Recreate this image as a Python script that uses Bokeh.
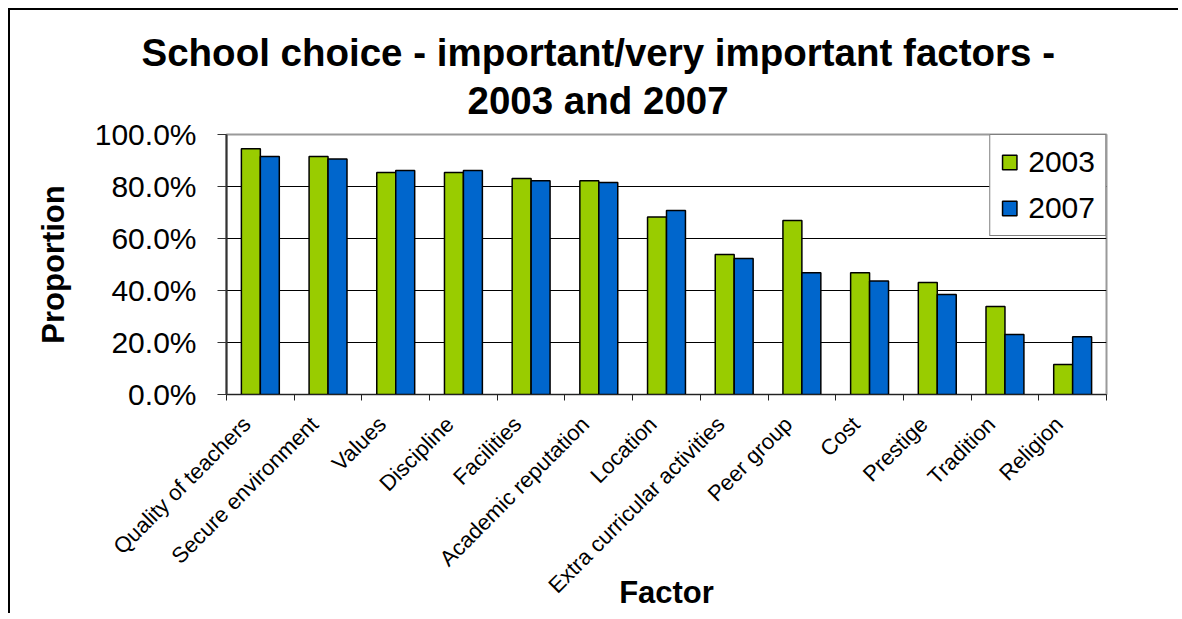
import math
from bokeh.plotting import figure
from bokeh.models import (Range1d, LinearAxis, FixedTicker, Title,
                          NumeralTickFormatter, Legend, LegendItem, ColumnDataSource)
from bokeh.transform import dodge
from bokeh.embed import file_html
from bokeh.resources import INLINE

# ---- data ----
factors = ["Quality of teachers", "Secure environment", "Values", "Discipline", "Facilities",
           "Academic reputation", "Location", "Extra curricular activities", "Peer group",
           "Cost", "Prestige", "Tradition", "Religion"]
v2003 = [0.945, 0.915, 0.854, 0.854, 0.831, 0.822, 0.683, 0.538, 0.669, 0.468, 0.431, 0.338, 0.115]
v2007 = [0.915, 0.906, 0.862, 0.862, 0.822, 0.815, 0.708, 0.523, 0.468, 0.437, 0.385, 0.231, 0.222]
series_names = ["2003", "2007"]
y_ticks = [0.0, 0.2, 0.4, 0.6, 0.8, 1.0]
title_lines = ["School choice - important/very important factors -", "2003 and 2007"]
x_title = "Factor"
y_title = "Proportion"

colors = ["#99CC00", "#0066CC"]
FONT = "Liberation Sans"

n = len(factors)
centers = [i + 0.5 for i in range(n)]          # category slots on a numeric axis
label_pos = [c - 0.2 for c in centers]         # anchor of the slanted category labels
src = ColumnDataSource(dict(pos=centers, factor=factors, y2003=v2003, y2007=v2007))

p = figure(x_range=Range1d(0, n), y_range=Range1d(0, 1), title=None,
           width=1170, height=605, output_backend="svg", toolbar_location=None,
           x_axis_location=None, y_axis_location="left",
           min_border_left=216, min_border_right=74, min_border_top=124, min_border_bottom=221)
p.styles = {"margin-left": "8px", "margin-top": "8px",
            "border-left": "2px solid black", "border-top": "2px solid black"}

p.outline_line_color = "#9a9a9a"
p.outline_line_width = 2
p.background_fill_color = "white"
p.border_fill_color = "white"

# y axis
ya = p.yaxis[0]
ya.ticker = FixedTicker(ticks=y_ticks)
ya.formatter = NumeralTickFormatter(format="0.0%")
ya.major_label_text_font = FONT
ya.major_label_text_font_size = "30px"
ya.major_label_text_color = "black"
ya.major_tick_in = 0
ya.major_tick_out = 9
ya.major_tick_line_color = "#333333"
ya.minor_tick_line_color = None
ya.axis_line_color = "#333333"
ya.axis_line_width = 2
ya.major_label_standoff = 21
ya.axis_label = y_title
ya.axis_label_text_font = FONT
ya.axis_label_text_font_size = "31px"
ya.axis_label_text_font_style = "bold"
ya.axis_label_text_color = "black"
ya.axis_label_standoff = 21

p.ygrid.ticker = FixedTicker(ticks=y_ticks[1:-1])
p.ygrid.grid_line_color = "black"
p.ygrid.grid_line_width = 1
p.xgrid.grid_line_color = None

# x axis: category labels, tick marks at slot boundaries
cat_axis = LinearAxis(ticker=FixedTicker(ticks=label_pos, minor_ticks=list(range(n + 1))),
                      major_label_overrides={c: f for c, f in zip(label_pos, factors)},
                      major_tick_line_color=None, major_tick_in=0, major_tick_out=0,
                      minor_tick_in=0, minor_tick_out=6, minor_tick_line_color="#222222",
                      axis_line_color="#222222",
                      major_label_orientation=math.pi / 4,
                      major_label_text_font_size="22px", major_label_text_font=FONT,
                      major_label_text_color="black", major_label_standoff=20,
                      axis_label=x_title, axis_label_text_font=FONT,
                      axis_label_text_font_size="31px", axis_label_text_font_style="bold",
                      axis_label_text_color="black", axis_label_standoff=-35)
p.add_layout(cat_axis, "below")

# bars
r1 = p.vbar(x=dodge("pos", -0.14), top="y2003", width=0.28, source=src,
            fill_color=colors[0], line_color="black", line_width=1.5)
r2 = p.vbar(x=dodge("pos", 0.14), top="y2007", width=0.28, source=src,
            fill_color=colors[1], line_color="black", line_width=1.5)

legend = Legend(items=[LegendItem(label=series_names[0], renderers=[r1]),
                       LegendItem(label=series_names[1], renderers=[r2])],
                location="top_right", margin=0, padding=10, spacing=12,
                label_text_font_size="30px", label_text_font=FONT, label_text_color="black",
                glyph_width=18, glyph_height=18, label_height=30, label_standoff=10,
                border_line_color="black", border_line_width=1, background_fill_alpha=1)
p.add_layout(legend)

# two-line title (second line added first: it sits nearest the frame)
p.add_layout(Title(text=title_lines[1], align="left", offset=241, standoff=25,
                   text_font=FONT, text_font_size="38.5px", text_font_style="bold",
                   text_color="black"), "above")
p.add_layout(Title(text=title_lines[0], align="left", offset=-85, standoff=-18,
                   text_font=FONT, text_font_size="38.5px", text_font_style="bold",
                   text_color="black"), "above")

open("out.html", "w").write(file_html(p, INLINE))
